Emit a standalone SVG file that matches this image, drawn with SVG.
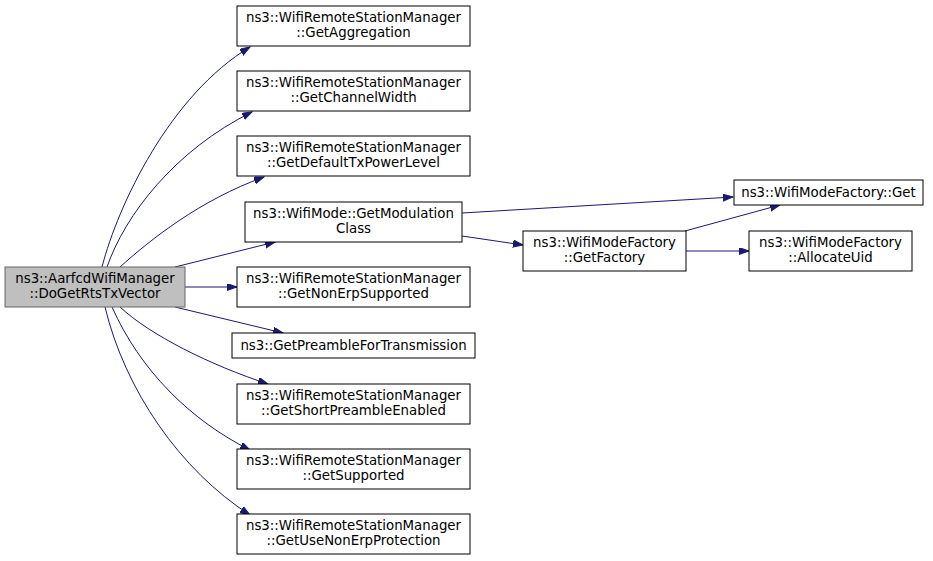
<svg xmlns="http://www.w3.org/2000/svg" width="933" height="561" viewBox="0 0 933 561">
<style>
.n rect{fill:#ffffff;stroke:#000000;stroke-width:1}
.root rect{fill:#bfbfbf;stroke:#666666}
text{font-family:"DejaVu Sans","Liberation Sans",sans-serif;font-size:13.33px;text-anchor:middle;fill:#000000}
.e path{fill:none;stroke:#191970;stroke-width:1;marker-end:url(#arr)}
</style>
<defs>
<marker id="arr" markerUnits="userSpaceOnUse" markerWidth="11" markerHeight="8" refX="10" refY="3.5" orient="auto">
<path d="M0,0 L10,3.5 L0,7 z" fill="#191970" stroke="#191970"/>
</marker>
</defs>
<rect width="933" height="561" fill="#ffffff"/>
<g id="connectors" class="e">
<path d="M102,267 C118,205 170,95 250,47"/>
<path d="M107,267 C125,215 175,150 252,112"/>
<path d="M120,267 C150,240 200,200 264,177"/>
<path d="M175,267 L275,242"/>
<path d="M185,287 L237,287"/>
<path d="M175,307 L283,333"/>
<path d="M120,307 C150,335 210,365 268,384"/>
<path d="M112,307 C140,370 190,420 250,450"/>
<path d="M105,307 C125,390 180,470 250,515"/>
<path d="M462,213 L733,197"/>
<path d="M462,236 L523,245"/>
<path d="M685,231 L780,205"/>
<path d="M686,251 L749,251"/>
</g>
<g id="root" class="n root"><rect x="5" y="267" width="180" height="40"/><text x="95" y="283">ns3::AarfcdWifiManager</text><text x="95" y="298">::DoGetRtsTxVector</text></g>
<g id="getAggregation" class="n"><rect x="237" y="6" width="233" height="40"/><text x="353.5" y="22">ns3::WifiRemoteStationManager</text><text x="353.5" y="37">::GetAggregation</text></g>
<g id="getChannelWidth" class="n"><rect x="237" y="71" width="233" height="40"/><text x="353.5" y="87">ns3::WifiRemoteStationManager</text><text x="353.5" y="102">::GetChannelWidth</text></g>
<g id="getDefaultTxPowerLevel" class="n"><rect x="237" y="136" width="233" height="40"/><text x="353.5" y="152">ns3::WifiRemoteStationManager</text><text x="353.5" y="167">::GetDefaultTxPowerLevel</text></g>
<g id="getModulationClass" class="n"><rect x="245" y="202" width="217" height="40"/><text x="353.5" y="218">ns3::WifiMode::GetModulation</text><text x="353.5" y="233">Class</text></g>
<g id="getNonErpSupported" class="n"><rect x="237" y="267" width="233" height="40"/><text x="353.5" y="283">ns3::WifiRemoteStationManager</text><text x="353.5" y="298">::GetNonErpSupported</text></g>
<g id="getPreambleForTransmission" class="n"><rect x="232" y="333" width="243" height="25"/><text x="353.5" y="350">ns3::GetPreambleForTransmission</text></g>
<g id="getShortPreambleEnabled" class="n"><rect x="237" y="384" width="233" height="40"/><text x="353.5" y="400">ns3::WifiRemoteStationManager</text><text x="353.5" y="415">::GetShortPreambleEnabled</text></g>
<g id="getSupported" class="n"><rect x="237" y="449" width="233" height="40"/><text x="353.5" y="465">ns3::WifiRemoteStationManager</text><text x="353.5" y="480">::GetSupported</text></g>
<g id="getUseNonErpProtection" class="n"><rect x="237" y="514" width="233" height="40"/><text x="353.5" y="530">ns3::WifiRemoteStationManager</text><text x="353.5" y="545">::GetUseNonErpProtection</text></g>
<g id="getFactory" class="n"><rect x="523" y="231" width="163" height="40"/><text x="604.5" y="247">ns3::WifiModeFactory</text><text x="604.5" y="262">::GetFactory</text></g>
<g id="get" class="n"><rect x="734" y="180" width="189" height="25"/><text x="828.5" y="197">ns3::WifiModeFactory::Get</text></g>
<g id="allocateUid" class="n"><rect x="749" y="231" width="163" height="40"/><text x="830.5" y="247">ns3::WifiModeFactory</text><text x="830.5" y="262">::AllocateUid</text></g>
</svg>
